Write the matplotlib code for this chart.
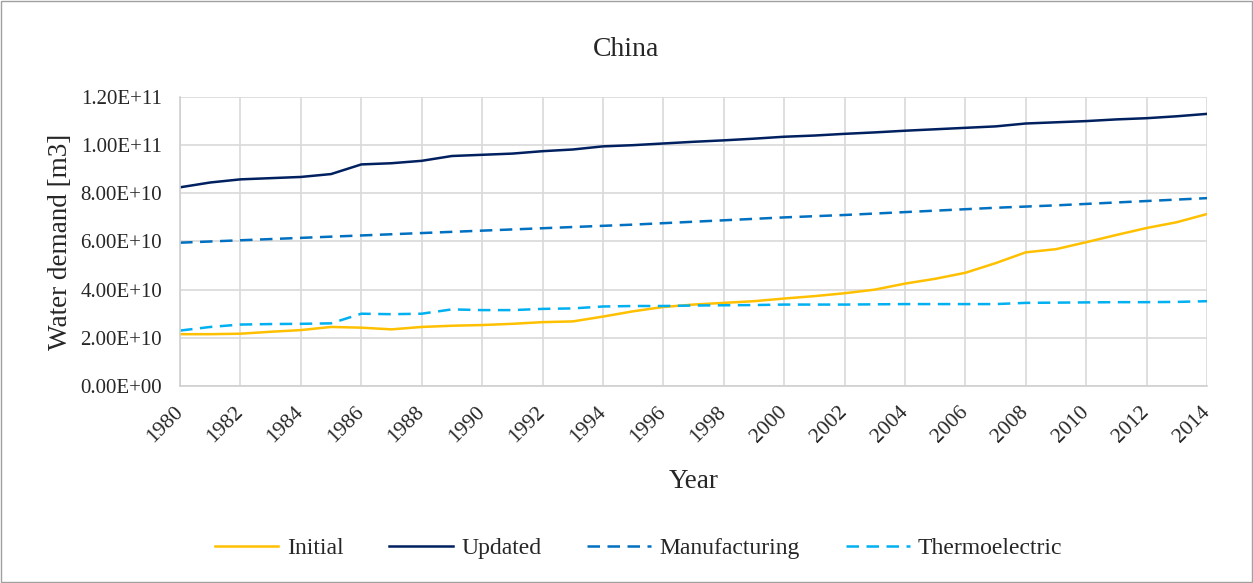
import matplotlib.pyplot as plt
from matplotlib.ticker import FuncFormatter

years = list(range(1980, 2015))

# values in 1e10 m3
initial = [2.15, 2.15, 2.17, 2.25, 2.32, 2.45, 2.42, 2.35, 2.45, 2.50,
           2.53, 2.58, 2.65, 2.68, 2.88, 3.10, 3.28, 3.38, 3.45, 3.52,
           3.63, 3.73, 3.85, 4.00, 4.25, 4.45, 4.70, 5.10, 5.55, 5.68,
           5.97, 6.27, 6.56, 6.80, 7.14]
updated = [8.25, 8.45, 8.58, 8.63, 8.68, 8.80, 9.20, 9.25, 9.35, 9.55,
           9.60, 9.65, 9.75, 9.82, 9.95, 10.00, 10.07, 10.14, 10.20, 10.27,
           10.35, 10.40, 10.47, 10.53, 10.60, 10.66, 10.72, 10.78, 10.90, 10.95,
           11.00, 11.07, 11.12, 11.20, 11.30]
manufacturing = [5.95, 6.00, 6.05, 6.10, 6.15, 6.20, 6.25, 6.30, 6.35, 6.40,
                 6.45, 6.50, 6.55, 6.60, 6.65, 6.70, 6.76, 6.82, 6.88, 6.94,
                 7.00, 7.05, 7.10, 7.16, 7.22, 7.28, 7.34, 7.40, 7.45, 7.50,
                 7.56, 7.62, 7.68, 7.74, 7.80]
thermoelectric = [2.30, 2.45, 2.55, 2.57, 2.58, 2.60, 3.00, 2.98, 3.00, 3.18,
                  3.15, 3.15, 3.20, 3.22, 3.30, 3.32, 3.32, 3.34, 3.35, 3.36,
                  3.38, 3.38, 3.38, 3.39, 3.40, 3.40, 3.40, 3.40, 3.45, 3.46,
                  3.47, 3.48, 3.48, 3.49, 3.52]

plt.rcParams['font.family'] = ['Liberation Serif', 'DejaVu Serif']
TEXT = "#262626"

fig = plt.figure(figsize=(12.53, 5.83), dpi=100)
ax = fig.add_axes([0.1437, 0.338, 0.8196, 0.4956])

scale = 1e10
ax.plot(years, [v * scale for v in initial], color="#FFC000", lw=1.8, label="Initial")
ax.plot(years, [v * scale for v in updated], color="#002060", lw=1.8, label="Updated")
ax.plot(years, [v * scale for v in manufacturing], color="#0070C0", lw=1.8,
        ls=(0, (5, 3)), label="Manufacturing")
ax.plot(years, [v * scale for v in thermoelectric], color="#00B0F0", lw=1.8,
        ls=(0, (5, 3)), label="Thermoelectric")

ax.set_xlim(1980, 2014)
ax.set_ylim(0, 1.2e11)
ax.set_xticks(range(1980, 2015, 2))
ax.set_yticks([i * 2e10 for i in range(7)])
ax.yaxis.set_major_formatter(FuncFormatter(lambda v, p: f"{v:.2E}"))
ax.tick_params(axis="x", labelsize=15.5, length=0, pad=17, labelcolor=TEXT)
ax.tick_params(axis="y", labelsize=15, length=0, pad=13, labelcolor=TEXT)
for lab in ax.get_xticklabels():
    lab.set_rotation(45)
    lab.set_ha("right")
    lab.set_va("center")
    lab.set_rotation_mode("anchor")

ax.grid(True, color="#d9d9d9", lw=1.2)
ax.set_axisbelow(True)
for s in ["top", "right"]:
    ax.spines[s].set_visible(False)
for s in ["left", "bottom"]:
    ax.spines[s].set_color("#d0d0d0")
    ax.spines[s].set_linewidth(1.2)

ax.set_xlabel("Year", fontsize=19.5, color=TEXT)
ax.xaxis.set_label_coords(0.5, -0.288)
ax.set_ylabel("Water demand [m3]", fontsize=19.5, color=TEXT)
ax.yaxis.set_label_coords(-0.104, 0.5)
fig.text(0.5, 0.915, "China", ha="center", va="center", fontsize=20, color=TEXT)

fig.legend(loc="center", bbox_to_anchor=(0.5096, 0.06), ncol=4, frameon=False,
           fontsize=17, handlelength=2.7, columnspacing=1.95, handletextpad=0.35,
           labelcolor=TEXT)

fig.patches.append(plt.Rectangle((0.001, 0.001), 0.998, 0.997, transform=fig.transFigure,
                                 fill=False, edgecolor="#a0a0a0", lw=1))

fig.savefig("out.png", dpi=100)
